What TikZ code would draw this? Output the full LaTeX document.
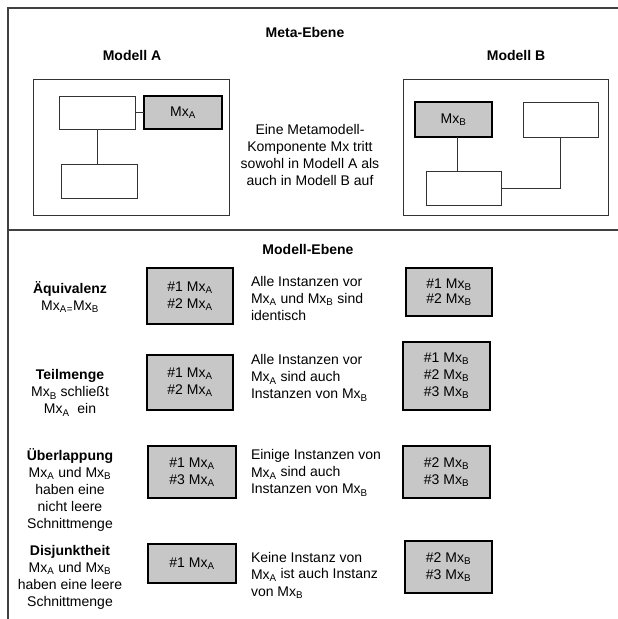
\documentclass[tikz,border=0pt]{standalone}
\usepackage{fontspec}
\setmainfont{Liberation Sans}
\newcommand\MxA{Mx\textsubscript{A}}
\newcommand\MxB{Mx\textsubscript{B}}
\begin{document}
\begin{tikzpicture}[x=1pt,y=-1pt,
  every node/.style={font=\fontsize{14}{17}\selectfont, inner sep=0pt, outer sep=0pt},
  hd/.style={font=\fontsize{14}{17}\selectfont\bfseries},
  ctxt/.style={align=center},
  ltxt/.style={align=left, anchor=west},
  frameline/.style={draw=black!75, line width=1.5pt},
  modelbox/.style={draw=black!80, line width=1pt},
  wbox/.style={draw=black!80, line width=1pt, fill=white},
  gbox/.style={draw=black, line width=2.5pt, fill=black!22, align=center},
  conn/.style={draw=black!80, line width=1pt}
]
\useasboundingbox (0,0) rectangle (618,619);
% frame
\coordinate (fbl) at (8,619);
\coordinate (ftl) at (8,8);
\coordinate (ftr) at (618,8);
\coordinate (fdl) at (8,230);
\coordinate (fdr) at (618,230);
\draw[frameline] (fbl) -- (ftl) -- (ftr);
\draw[frameline] (fdl) -- (fdr);

% Meta level
\node[hd] (meta) at (305,32) {Meta-Ebene};
\node[hd] (mA) at (132,55) {Modell A};
\node[hd] (mB) at (516,55) {Modell B};

\node[modelbox, minimum width=196, minimum height=136] (boxA) at (131,147) {};
\node[wbox, minimum width=76, minimum height=33] (a1) at (97,112.5) {};
\node[gbox, minimum width=78, minimum height=33] (mxa) at (183,112.5) {\MxA};
\node[wbox, minimum width=76, minimum height=34] (a2) at (99,181) {};
\draw[conn] (a1.east) -- (mxa.west);
\draw[conn] (a1.south) -- (a1.south |- a2.north);

\node[ctxt] (desc) at (310,155) {Eine Metamodell-\\Komponente Mx tritt\\sowohl in Modell A als\\auch in Modell B auf};

\node[modelbox, minimum width=205, minimum height=136] (boxB) at (505.5,147) {};
\node[gbox, minimum width=77, minimum height=35] (mxb) at (453.5,119.5) {\MxB};
\node[wbox, minimum width=75, minimum height=35] (b1) at (560.5,119.5) {};
\node[wbox, minimum width=75, minimum height=34] (b2) at (463.5,188) {};
\draw[conn] ([xshift=4pt]mxb.south) -- ([xshift=4pt]mxb.south |- b2.north);
\draw[conn] (b2.east) -| (b1.south);

% Model level
\node[hd] (model) at (308,249) {Modell-Ebene};

% Row 1
\node[ctxt] (l1) at (70,297) {\textbf{Äquivalenz}\\\MxA\textsubscript{=}\MxB};
\node[gbox, minimum width=86, minimum height=56] (g1a) at (190,296) {\#1 \MxA\\\#2 \MxA};
\node[ltxt] (t1) at (251,298) {Alle Instanzen vor\\\MxA{} und \MxB{} sind\\identisch};
\node[gbox, minimum width=86, minimum height=48, font=\fontsize{14}{15}\selectfont] (g1b) at (449,292) {\#1 \MxB\\\#2 \MxB};

% Row 2
\node[ctxt] (l2) at (70,393) {\textbf{Teilmenge}\\\MxB{} schließt\\\MxA{}\ \ ein};
\node[gbox, minimum width=86, minimum height=55] (g2a) at (190,382.5) {\#1 \MxA\\\#2 \MxA};
\node[ltxt] (t2) at (251,378) {Alle Instanzen vor\\\MxA{} sind auch\\Instanzen von \MxB};
\node[gbox, minimum width=87, minimum height=68] (g2b) at (446.5,376) {\#1 \MxB\\\#2 \MxB\\\#3 \MxB};

% Row 3
\node[ctxt] (l3) at (70,490) {\textbf{Überlappung}\\\MxA{} und \MxB\\haben eine\\nicht leere\\Schnittmenge};
\node[gbox, minimum width=88, minimum height=52] (g3a) at (192,472) {\#1 \MxA\\\#3 \MxA};
\node[ltxt] (t3) at (251,473) {Einige Instanzen von\\\MxA{} sind auch\\Instanzen von \MxB};
\node[gbox, minimum width=87, minimum height=52] (g3b) at (446.5,472) {\#2 \MxB\\\#3 \MxB};

% Row 4
\node[ctxt] (l4) at (70,577) {\textbf{Disjunktheit}\\\MxA{} und \MxB\\haben eine leere\\Schnittmenge};
\node[gbox, minimum width=88, minimum height=39] (g4a) at (192,563.5) {\#1 \MxA};
\node[ltxt] (t4) at (251,575) {Keine Instanz von\\\MxA{} ist auch Instanz\\von \MxB};
\node[gbox, minimum width=87, minimum height=52] (g4b) at (448.5,567) {\#2 \MxB\\\#3 \MxB};
\end{tikzpicture}
\end{document}
